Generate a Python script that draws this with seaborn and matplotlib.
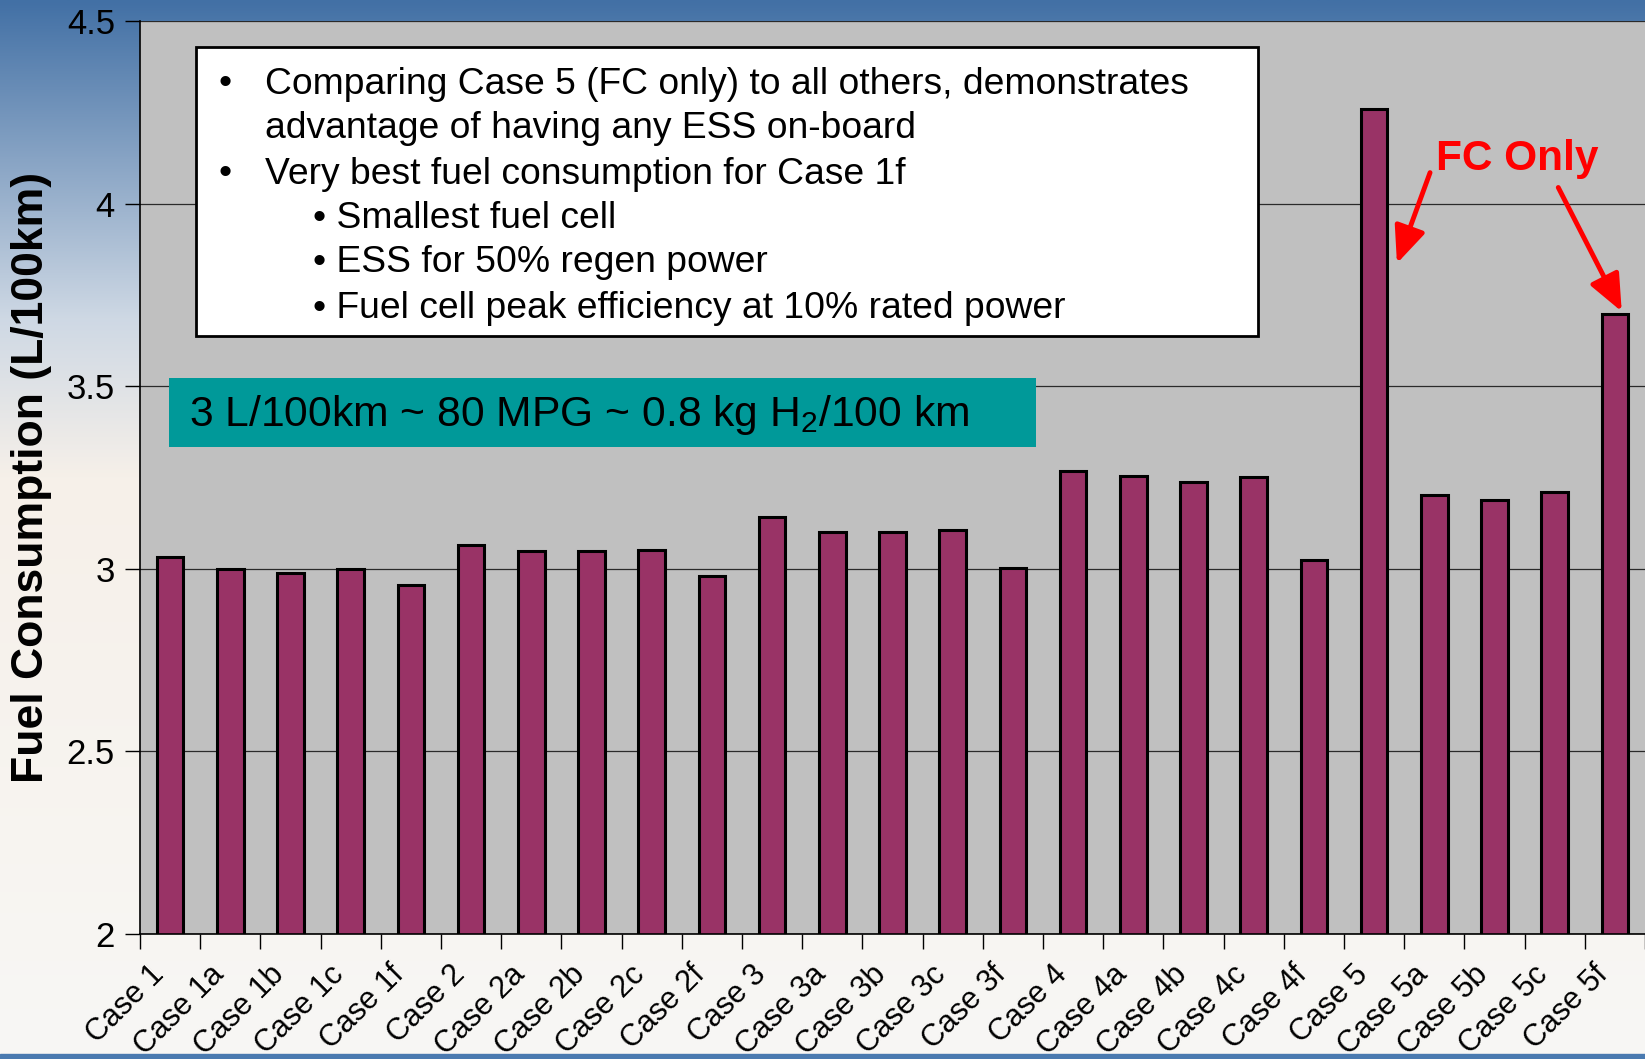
import numpy as np
import pandas as pd
import matplotlib
matplotlib.use("Agg")
import matplotlib.pyplot as plt
import matplotlib.transforms as mtransforms
from matplotlib.patches import Rectangle, FancyArrowPatch
import seaborn as sns

# ---------------- data ----------------
cases = ["Case 1", "Case 1a", "Case 1b", "Case 1c", "Case 1f",
         "Case 2", "Case 2a", "Case 2b", "Case 2c", "Case 2f",
         "Case 3", "Case 3a", "Case 3b", "Case 3c", "Case 3f",
         "Case 4", "Case 4a", "Case 4b", "Case 4c", "Case 4f",
         "Case 5", "Case 5a", "Case 5b", "Case 5c", "Case 5f"]
fuel = [3.033, 3.00, 2.988, 3.00, 2.955,
        3.066, 3.050, 3.050, 3.052, 2.981,
        3.142, 3.101, 3.100, 3.107, 3.003,
        3.268, 3.253, 3.239, 3.252, 3.024,
        4.260, 3.203, 3.189, 3.211, 3.697]
yticks = [2, 2.5, 3, 3.5, 4, 4.5]
ytick_labels = ["2", "2.5", "3", "3.5", "4", "4.5"]
ylabel = "Fuel Consumption (L/100km)"
box_lines = [
    ("•", "Comparing Case 5 (FC only) to all others, demonstrates"),
    ("", "advantage of having any ESS on-board"),
    ("•", "Very best fuel consumption for Case 1f"),
    ("sub", "• Smallest fuel cell"),
    ("sub", "• ESS for 50% regen power"),
    ("sub", "• Fuel cell peak efficiency at 10% rated power"),
]
teal_text = r"3 L/100km ~ 80 MPG ~ 0.8 kg H$_\mathregular{2}$/100 km"
fc_text = "FC Only"

df = pd.DataFrame({"case": cases, "fuel": fuel})

# ---------------- style ----------------
sns.set_theme(style="white")
plt.rcParams["font.family"] = ["Liberation Sans", "DejaVu Sans"]
plt.rcParams["mathtext.fontset"] = "custom"
plt.rcParams["mathtext.rm"] = "Liberation Sans"
plt.rcParams["text.color"] = "black"
plt.rcParams["xtick.color"] = "black"
plt.rcParams["ytick.color"] = "black"

W, H = 1645, 1059
fig = plt.figure(figsize=(W / 100, H / 100), dpi=100)

def fx(px):
    return px / W

def fy(py):
    return 1 - py / H

# ---------------- background gradient ----------------
bg = fig.add_axes([0, 0, 1, 1], zorder=-10)
ny = 400
t = np.linspace(0, 1, ny)
top = np.array([66, 112, 165]) / 255
mid = np.array([206, 216, 228]) / 255
low = np.array([246, 240, 233]) / 255
bot = np.array([248, 247, 245]) / 255
img = np.zeros((ny, 2, 3))
for i in range(ny):
    v = t[i]
    if v < 0.30:
        a = v / 0.30
        c = top * (1 - a) + mid * a
    elif v < 0.45:
        a = (v - 0.30) / 0.15
        c = mid * (1 - a) + low * a
    else:
        a = (v - 0.45) / 0.55
        c = low * (1 - a) + bot * a
    img[i, :, :] = c
bg.imshow(img, aspect="auto", extent=[0, 1, 0, 1], origin="upper")
bg.add_patch(Rectangle((0, 0), 1, 5 / H, color="#4a7ab0", transform=bg.transAxes))
bg.set_axis_off()

# ---------------- main axes ----------------
ax = fig.add_axes([fx(140), fy(934), 1 - fx(140), (934 - 21) / H])
ax.set_facecolor("#c0c0c0")
sns.barplot(data=df, x="case", y="fuel", color="#993366", saturation=1,
            edgecolor="black", linewidth=2.2, width=0.44, ax=ax)
ax.set_ylim(2, 4.5)
ax.set_xlim(-0.5, len(cases) - 0.5)
ax.set_yticks(yticks)
ax.set_yticklabels(ytick_labels, fontsize=25, color="black")
ax.yaxis.grid(True, color="#2a2a2a", linewidth=0.9)
ax.set_axisbelow(True)
ax.set_xlabel("")
ax.set_ylabel("")
for s in ["top", "right"]:
    ax.spines[s].set_visible(False)
for s in ["left", "bottom"]:
    ax.spines[s].set_color("black")
    ax.spines[s].set_linewidth(1.2)
ax.tick_params(axis="y", direction="out", length=11, width=1, color="black", pad=7, left=True)
ax.set_xticks(range(len(cases)))
ax.set_xticklabels(cases, rotation=45, ha="right", va="center",
                   rotation_mode="anchor", fontsize=22, color="black")
ax.tick_params(axis="x", which="major", length=0, pad=26, bottom=True)
ax.set_xticks(np.arange(-0.5, len(cases), 1.0), minor=True)
ax.tick_params(axis="x", which="minor", direction="out", length=11, width=1, color="black", bottom=True)
offset = mtransforms.ScaledTranslation(-11 / 100, 0, fig.dpi_scale_trans)
for lab in ax.get_xticklabels():
    lab.set_transform(lab.get_transform() + offset)

# y label
fig.text(fx(32), fy(477), ylabel, rotation=90, ha="center", va="center",
         fontsize=32, fontweight="bold", color="black")

# ---------------- text box ----------------
fig.patches.append(Rectangle((fx(196), fy(336)), fx(1258) - fx(196), fy(47) - fy(336),
                             transform=fig.transFigure, facecolor="white",
                             edgecolor="black", linewidth=2, zorder=5))
line_y = [84, 129, 174, 218, 263, 308]
fs_box = 26.8
for (kind, txt), yy in zip(box_lines, line_y):
    if kind == "sub":
        fig.text(fx(313), fy(yy), txt, ha="left", va="center", fontsize=fs_box, zorder=6)
    else:
        if kind == "•":
            fig.text(fx(218), fy(yy), "•", ha="left", va="center", fontsize=fs_box, zorder=6)
        fig.text(fx(265), fy(yy), txt, ha="left", va="center", fontsize=fs_box, zorder=6)

# teal box
fig.patches.append(Rectangle((fx(169), fy(447)), fx(1036) - fx(169), fy(378) - fy(447),
                             transform=fig.transFigure, facecolor="#009999",
                             edgecolor="none", zorder=5))
fig.text(fx(189), fy(415), teal_text, ha="left", va="center", fontsize=30.7, zorder=6)

# ---------------- FC Only annotation ----------------
fig.text(fx(1436), fy(159), fc_text, ha="left", va="center", fontsize=30.5,
         fontweight="bold", color="#ff0000", zorder=6)
for (x0, y0), (x1, y1) in [((1431, 170), (1396, 266)), ((1557, 185), (1623, 314))]:
    arr = FancyArrowPatch((fx(x0), fy(y0)), (fx(x1), fy(y1)), transform=fig.transFigure,
                          arrowstyle="-|>,head_length=14,head_width=6", color="#ff0000",
                          linewidth=3.5, mutation_scale=1.6, zorder=6)
    fig.patches.append(arr)

fig.savefig("out.png", dpi=100)
